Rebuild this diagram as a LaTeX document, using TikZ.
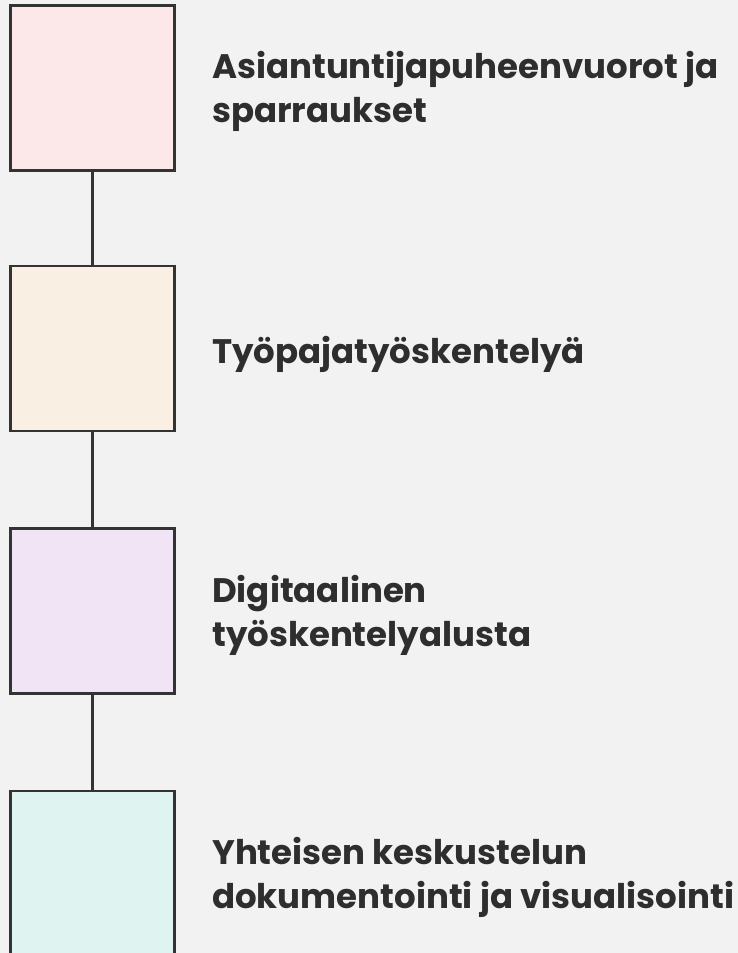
\documentclass[tikz,border=0pt]{standalone}
\usepackage{fontspec}
\setmainfont{Poppins}
\definecolor{bg}{HTML}{F2F2F2}
\definecolor{ink}{HTML}{2E2E2E}
\definecolor{edge}{HTML}{333333}
\definecolor{fillA}{HTML}{FCE8E8}
\definecolor{fillB}{HTML}{F9F0E3}
\definecolor{fillC}{HTML}{F0E4F5}
\definecolor{fillD}{HTML}{DFF3F0}
\tikzset{
  stepbox/.style={draw=edge, line width=2.7pt, minimum width=164.2pt, minimum height=165pt, inner sep=0pt, outer sep=0pt},
  label/.style={anchor=west, align=left, inner sep=0pt, text=ink, font=\fontsize{34}{44}\selectfont\bfseries},
  link/.style={draw=edge, line width=2.7pt}
}
\begin{document}
\begin{tikzpicture}[x=1pt,y=-1pt]
\fill[bg] (0,0) rectangle (738,953);
\useasboundingbox (0,0) rectangle (738,953);
\begin{scope}
\clip (0,0) rectangle (738,953);
\node[stepbox, fill=fillA] (b1) at (92.4,88.2) {};
\node[stepbox, fill=fillB] (b2) at (92.4,348.5) {};
\node[stepbox, fill=fillC] (b3) at (92.4,610.8) {};
\node[stepbox, fill=fillD] (b4) at (92.4,873.5) {};
\draw[link] (b1.south) -- (b2.north);
\draw[link] (b2.south) -- (b3.north);
\draw[link] (b3.south) -- (b4.north);
\end{scope}
\node[label] (t1) at (212,91) {Asiantuntijapuheenvuorot ja\\sparraukset};
\node[label] (t2) at (212,354) {Työpajatyöskentelyä};
\node[label] (t3) at (212,615) {Digitaalinen\\työskentelyalusta};
\node[label] (t4) at (212,877) {Yhteisen keskustelun\\dokumentointi ja visualisointi};
\end{tikzpicture}
\end{document}
